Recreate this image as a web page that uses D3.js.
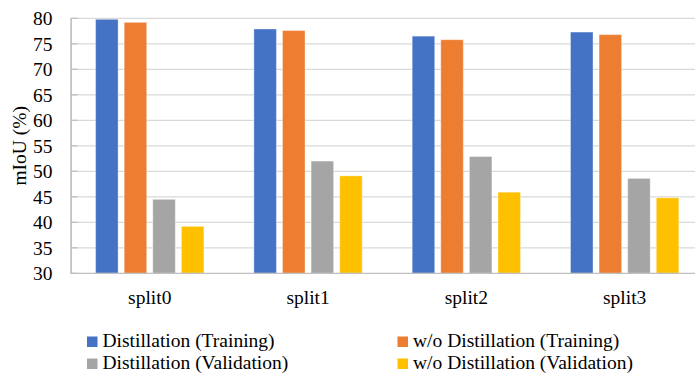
<!DOCTYPE html>
<html>
<head>
<meta charset="utf-8">
<script src="https://cdn.jsdelivr.net/npm/d3@7"></script>
<style>
  html, body { margin: 0; padding: 0; background: #fff; }
  svg text { font-family: "Liberation Serif", "Times New Roman", Times, "DejaVu Serif", serif !important; }
</style>
</head>
<body>
<svg id="chart" width="695" height="373"></svg>
<script>
// ---- data ----
const categories = ["split0", "split1", "split2", "split3"];
const seriesNames = [
  "Distillation (Training)",
  "w/o Distillation (Training)",
  "Distillation (Validation)",
  "w/o Distillation (Validation)"
];
const distTrain   = [79.8, 77.9, 76.5, 77.3];
const woDistTrain = [79.2, 77.6, 75.8, 76.8];
const distVal     = [44.5, 52.0, 52.9, 48.6];
const woDistVal   = [39.2, 49.1, 45.9, 44.8];
const yTicks = [30, 35, 40, 45, 50, 55, 60, 65, 70, 75, 80];
const colors = ["#4472C4", "#ED7D31", "#A5A5A5", "#FFC000"];

const seriesValues = [distTrain, woDistTrain, distVal, woDistVal];

// ---- layout ----
const svg = d3.select("#chart");
const plotLeft = 70.6, plotRight = 703.8, plotTop = 18.3, plotBottom = 273.3;

const x0 = d3.scaleBand().domain(categories).range([plotLeft, plotRight]).paddingInner(0).paddingOuter(0);
const groupPad = 25;
const x1 = d3.scaleBand().domain(seriesNames)
  .range([groupPad, x0.bandwidth() - groupPad]).paddingInner(0.213).paddingOuter(0);
const y = d3.scaleLinear().domain([30, 80]).range([plotBottom, plotTop]);

// gridlines
svg.append("g").selectAll("line").data(yTicks.slice(1)).join("line")
  .attr("x1", plotLeft).attr("x2", 695)
  .attr("y1", d => y(d)).attr("y2", d => y(d))
  .attr("stroke", "#D9D9D9").attr("stroke-width", 1.2);

// bars
const groups = svg.append("g").selectAll("g").data(categories).join("g")
  .attr("transform", c => `translate(${x0(c)},0)`);
groups.selectAll("rect")
  .data((c, ci) => seriesNames.map((s, si) => ({ s, si, v: seriesValues[si][ci] })))
  .join("rect")
  .attr("x", d => x1(d.s))
  .attr("width", x1.bandwidth())
  .attr("y", d => y(d.v))
  .attr("height", d => y(30) - y(d.v))
  .attr("fill", d => colors[d.si])
  .attr("stroke", "#ffffff").attr("stroke-opacity", 0.35).attr("stroke-width", 1);

// y axis
const yAxis = d3.axisLeft(y).tickValues(yTicks).tickSize(0).tickPadding(18);
const yg = svg.append("g").attr("transform", `translate(${plotLeft},0)`).call(yAxis);
yg.attr("font-family", null).attr("font-size", null);
yg.select(".domain").attr("stroke", "#A6A6A6").attr("stroke-width", 1.2);
yg.selectAll("text").attr("font-size", "19.5px").attr("fill", "#000");
// small inward tick marks
svg.append("g").selectAll("line").data(yTicks).join("line")
  .attr("x1", plotLeft).attr("x2", plotLeft + 7)
  .attr("y1", d => y(d)).attr("y2", d => y(d))
  .attr("stroke", "#BFBFBF").attr("stroke-width", 1.2);

// x axis
const xAxis = d3.axisBottom(x0).tickSize(0).tickPadding(17);
const xg = svg.append("g").attr("transform", `translate(0,${plotBottom})`).call(xAxis);
xg.attr("font-family", null).attr("font-size", null);
xg.select(".domain").remove();
svg.append("line").attr("x1", plotLeft).attr("x2", 695)
  .attr("y1", plotBottom).attr("y2", plotBottom)
  .attr("stroke", "#BFBFBF").attr("stroke-width", 1.2);
xg.selectAll("text").attr("font-size", "19.5px").attr("fill", "#000");

// y title
svg.append("text")
  .attr("transform", `translate(26,${(plotTop + plotBottom) / 2}) rotate(-90)`)
  .attr("text-anchor", "middle")
  .attr("font-size", "19.5px")
  .text("mIoU (%)");

// legend
const legendPos = [
  { x: 87, y: 347 }, { x: 397.5, y: 347 },
  { x: 87, y: 369 }, { x: 397.5, y: 369 }
];
const lg = svg.append("g").selectAll("g").data(seriesNames).join("g")
  .attr("transform", (d, i) => `translate(${legendPos[i].x},${legendPos[i].y})`);
lg.append("rect").attr("x", 0).attr("y", -10.5).attr("width", 10.5).attr("height", 10.5)
  .attr("fill", (d, i) => colors[i]);
lg.append("text").attr("x", 15.5).attr("y", 0)
  .attr("font-size", "19.5px").text(d => d);
</script>
</body>
</html>
